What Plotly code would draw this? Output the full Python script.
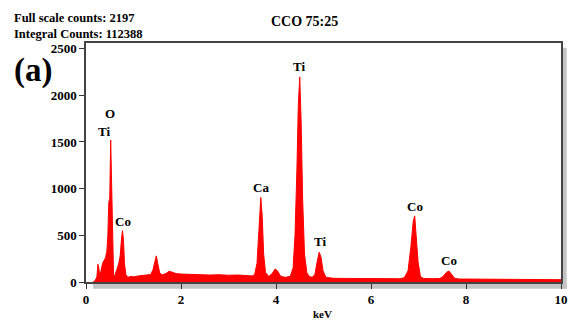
import plotly.graph_objects as go

kev = [0.15, 0.2, 0.23, 0.25, 0.27, 0.29, 0.32, 0.35, 0.38, 0.41, 0.44, 0.46, 0.48, 0.5, 0.52, 0.54, 0.56, 0.58,
       0.6, 0.63, 0.66, 0.69, 0.72, 0.75, 0.77, 0.79, 0.81, 0.84, 0.88, 0.95, 1.0, 1.1, 1.2, 1.3, 1.36, 1.41,
       1.45, 1.48, 1.51, 1.55, 1.6, 1.68, 1.75, 1.82, 1.9, 2.0, 2.2, 2.4, 2.6, 2.8, 3.0, 3.2, 3.4, 3.5, 3.55,
       3.6, 3.64, 3.68, 3.71, 3.74, 3.78, 3.85, 3.92, 3.98, 4.03, 4.1, 4.2, 4.3, 4.36, 4.4, 4.44, 4.47, 4.5,
       4.53, 4.56, 4.6, 4.65, 4.7, 4.76, 4.82, 4.86, 4.91, 4.95, 4.99, 5.05, 5.2, 5.5, 5.8, 6.1, 6.4, 6.6,
       6.7, 6.78, 6.84, 6.89, 6.92, 6.95, 6.99, 7.04, 7.1, 7.3, 7.45, 7.52, 7.58, 7.64, 7.7, 7.76, 7.85,
       8.2, 8.6, 9.0, 9.4, 9.8, 10.0]
counts = [0, 20, 60, 190, 150, 60, 130, 200, 230, 260, 330, 500, 850, 900, 1520, 1000, 300, 80,
          60, 120, 150, 200, 280, 480, 550, 430, 200, 80, 50, 60, 55, 65, 70, 70, 80, 130,
          230, 280, 200, 100, 75, 90, 115, 100, 90, 85, 80, 80, 75, 78, 72, 75, 68, 65, 80,
          200, 550, 905, 700, 300, 100, 60, 90, 140, 120, 60, 50, 60, 150, 500, 1200, 1900, 2197,
          1700, 900, 300, 100, 60, 50, 80, 200, 320, 260, 120, 50, 40, 38, 35, 36, 34, 35,
          45, 120, 380, 650, 708, 500, 220, 60, 38, 35, 38, 60, 100, 118, 80, 40, 32,
          30, 28, 28, 26, 25, 25]

peak_labels = ["O", "Ti", "Co", "Ca", "Ti", "Ti", "Co", "Co"]
peak_x = [0.5, 0.38, 0.77, 3.68, 4.48, 4.93, 6.93, 7.64]
peak_y = [1810, 1610, 653, 1010, 2305, 432, 814, 225]

x_ticks = [0, 2, 4, 6, 8, 10]
y_ticks = [0, 500, 1000, 1500, 2000, 2500]

serif = "Liberation Serif"

fig = go.Figure()
fig.add_trace(go.Scatter(x=kev, y=counts, mode="lines", fill="tozeroy",
                         line=dict(color="#ff0000", width=1), fillcolor="#ff0000",
                         hoverinfo="skip", showlegend=False))

for t, x, y in zip(peak_labels, peak_x, peak_y):
    fig.add_annotation(x=x, y=y, text="<b>%s</b>" % t, showarrow=False,
                       font=dict(family=serif, size=13, color="black"))

fig.add_annotation(xref="paper", yref="paper", x=-0.155, y=1.0, xanchor="left", yanchor="bottom",
                   text="<b>Full scale counts: 2197<br>Integral Counts: 112388</b>", align="left",
                   showarrow=False, font=dict(family=serif, size=12.5, color="black"))
fig.add_annotation(xref="paper", yref="paper", x=0.461, y=1.09, xanchor="center", yanchor="middle",
                   text="<b>CCO 75:25</b>", showarrow=False,
                   font=dict(family=serif, size=14, color="black"))
fig.add_annotation(xref="paper", yref="paper", x=-0.155, y=0.885, xanchor="left", yanchor="middle",
                   text="<b>(a)</b>", showarrow=False,
                   font=dict(family=serif, size=33, color="black"))
fig.add_annotation(xref="paper", yref="paper", x=0.497, y=-0.133, xanchor="center", yanchor="middle",
                   text="<b>keV</b>", showarrow=False,
                   font=dict(family=serif, size=11, color="black"))

# shadow of the frame
fig.add_shape(type="rect", xref="paper", yref="paper", x0=0.015, x1=1.012, y0=-0.028, y1=-0.004,
              fillcolor="#c4c4c4", line=dict(width=0), layer="below")
fig.add_shape(type="rect", xref="paper", yref="paper", x0=1.003, x1=1.012, y0=-0.028, y1=0.98,
              fillcolor="#c4c4c4", line=dict(width=0), layer="below")

fig.update_xaxes(range=[0, 10], tickvals=x_ticks, ticktext=["<b>%d</b>" % v for v in x_ticks],
                 ticks="outside", ticklen=5, tickcolor="#333", showgrid=False, zeroline=False,
                 showline=True, linecolor="#444", linewidth=1.5, mirror=True, automargin=False,
                 tickfont=dict(family=serif, size=13, color="black"))
fig.update_yaxes(range=[0, 2560], tickvals=y_ticks, ticktext=["<b>%d</b>" % v for v in y_ticks],
                 ticks="outside", ticklen=5, tickcolor="#333", showgrid=False, zeroline=False,
                 showline=True, linecolor="#444", linewidth=1.5, mirror=True, automargin=False,
                 tickfont=dict(family=serif, size=13, color="black"))

fig.update_layout(width=570, height=322, margin=dict(l=86, r=9, t=43, b=40),
                  plot_bgcolor="white", paper_bgcolor="white")

fig.write_html("out.html")
